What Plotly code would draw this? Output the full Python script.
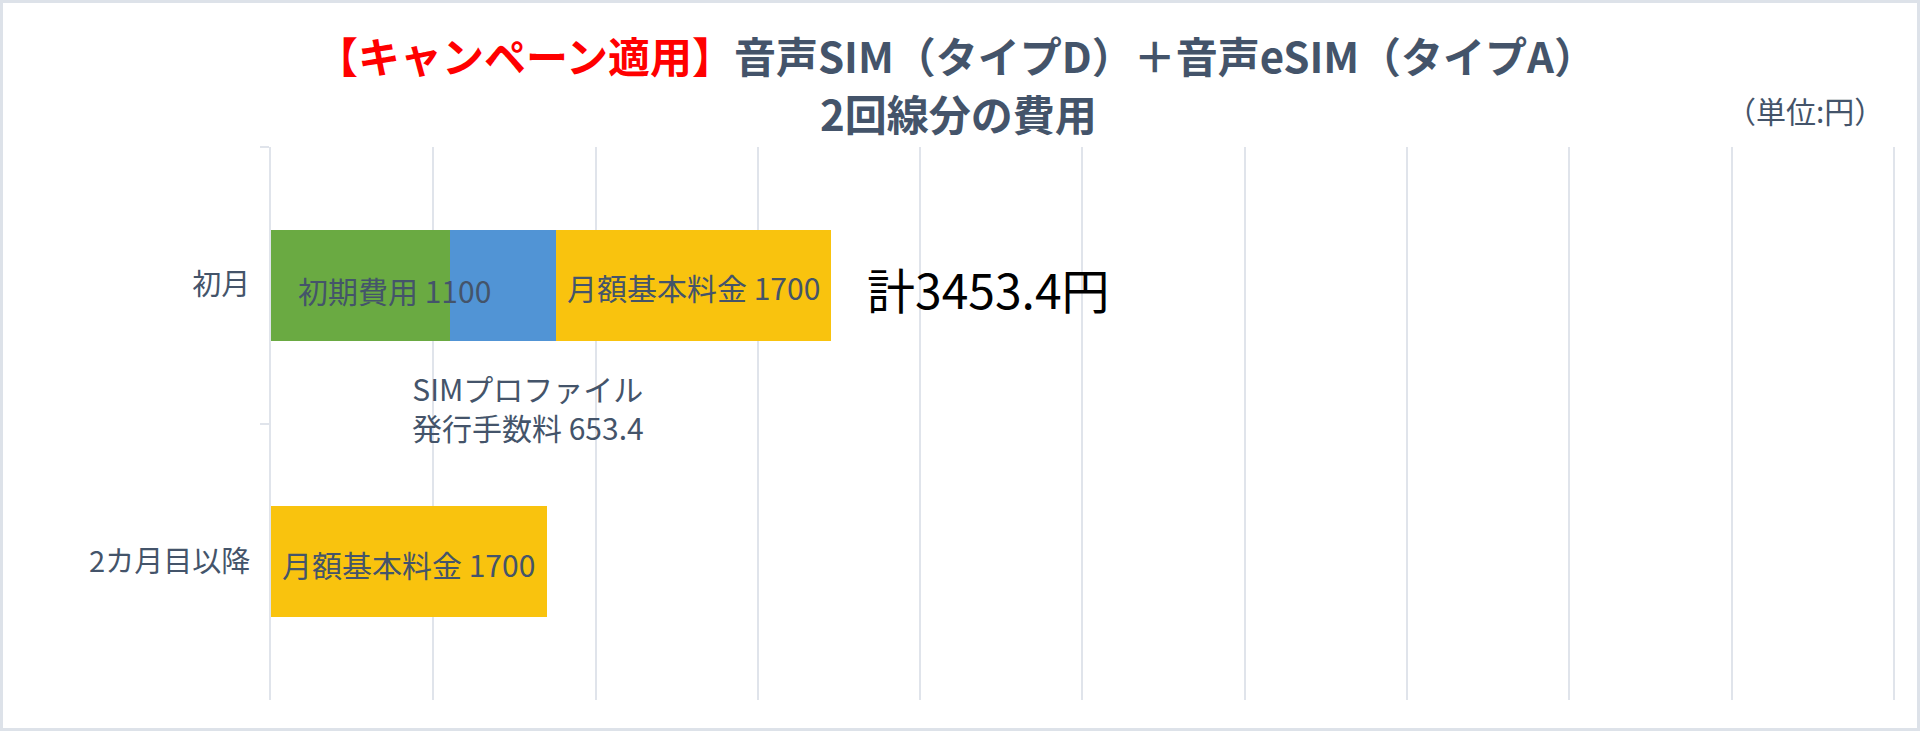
import plotly.graph_objects as go

# ---- data ----
categories = ["初月", "2カ月目以降"]
initial_fee = [1100, None]          # 初期費用
sim_profile_fee = [653.4, None]     # SIMプロファイル発行手数料
monthly_fee = [1700, 1700]          # 月額基本料金
x_max = 10000
x_step = 1000

title_red = "【キャンペーン適用】"
title_rest = "音声SIM（タイプD）＋音声eSIM（タイプA）"
title_line2 = "2回線分の費用"
unit_label = "（単位:円）"

# ---- styles ----
W, H = 1920, 731
X_PAD = 1.01                        # small room so the last grid line is drawn
M = dict(l=271, r=10, t=147, b=31)
PW = W - M["l"] - M["r"]
PH = H - M["t"] - M["b"]
FONT = "Noto Sans CJK JP"
TXT = "#44546a"
GRID = "#e0e4eb"
C_GREEN = "#6aaa42"
C_BLUE = "#5194d5"
C_YELLOW = "#f9c30e"


def px_x(px):
    return (px - M["l"]) / PW


def px_y(py):
    return 1 - (py - M["t"]) / PH


def v(a):
    return 0 if a is None else a


fig = go.Figure()
for vals, col, name in [(initial_fee, C_GREEN, "初期費用"),
                        (sim_profile_fee, C_BLUE, "SIMプロファイル発行手数料"),
                        (monthly_fee, C_YELLOW, "月額基本料金")]:
    fig.add_trace(go.Bar(y=categories, x=vals, orientation="h", name=name,
                         marker=dict(color=col, line=dict(width=0)),
                         width=0.4, hoverinfo="skip", showlegend=False))

annos = []
lab_font = dict(family=FONT, size=30, color=TXT)
# 初月 labels
annos.append(dict(x=v(initial_fee[0]) / 2, y=categories[0], xref="x", yref="y",
                  text=f"初期費用 {v(initial_fee[0]):g}", showarrow=False,
                  font=lab_font, xshift=34, yshift=-5))
annos.append(dict(x=v(initial_fee[0]) + v(sim_profile_fee[0]) / 2, y=categories[0],
                  xref="x", yref="y",
                  text=f"SIMプロファイル<br>発行手数料 {v(sim_profile_fee[0]):g}",
                  showarrow=False, font=lab_font, xshift=25, yshift=-122))
for i, cat in enumerate(categories):
    base = v(initial_fee[i]) + v(sim_profile_fee[i])
    annos.append(dict(x=base + monthly_fee[i] / 2, y=cat, xref="x", yref="y",
                      text=f"月額基本料金 {monthly_fee[i]:g}", showarrow=False,
                      font=lab_font, yshift=-2))
total0 = v(initial_fee[0]) + v(sim_profile_fee[0]) + v(monthly_fee[0])
annos.append(dict(x=total0, y=categories[0], xref="x", yref="y", xanchor="left",
                  text=f"計{round(total0, 1):g}円", showarrow=False,
                  font=dict(family=FONT, size=48, color="#000000"), xshift=34, yshift=-3))
# titles
annos.append(dict(x=px_x(956), y=px_y(55), xref="paper", yref="paper",
                  xanchor="center", yanchor="middle",
                  text=f"<span style='color:#ff0000'>{title_red}</span>{title_rest}",
                  showarrow=False, font=dict(family=FONT, size=42, color=TXT, weight="bold")))
annos.append(dict(x=px_x(958), y=px_y(113), xref="paper", yref="paper",
                  xanchor="center", yanchor="middle",
                  text=title_line2, showarrow=False,
                  font=dict(family=FONT, size=42, color=TXT, weight="bold")))
annos.append(dict(x=px_x(1805), y=px_y(110), xref="paper", yref="paper",
                  xanchor="center", yanchor="middle",
                  text=unit_label, showarrow=False,
                  font=dict(family=FONT, size=30, color=TXT)))

fig.update_layout(
    width=W, height=H, margin=M,
    barmode="stack", bargap=0.6,
    paper_bgcolor="white", plot_bgcolor="white",
    font=dict(family=FONT, color=TXT),
    annotations=annos,
    xaxis=dict(range=[0, x_max * X_PAD], dtick=x_step, tick0=0, showticklabels=False,
               showgrid=True, gridcolor=GRID, gridwidth=2, zeroline=False,
               showline=False, fixedrange=True),
    yaxis=dict(type="category", range=[len(categories) - 0.5, -0.5], showline=True,
               linecolor=GRID, linewidth=2, ticks="outside", tickson="boundaries",
               ticklen=9, tickcolor=GRID, tickwidth=2, ticklabelstandoff=13,
               tickfont=dict(family=FONT, size=29, color=TXT), showgrid=False),
    shapes=[dict(type="rect", xref="paper", yref="paper",
                 x0=-(M["l"] - 1.5) / PW, x1=1 + (M["r"] - 1.5) / PW,
                 y0=-(M["b"] - 1.5) / PH, y1=1 + (M["t"] - 1.5) / PH,
                 line=dict(color="#dde2e9", width=3), layer="below")],
)

fig.write_html("out.html", config={"displayModeBar": False},
               post_script="document.body.style.margin='0';document.body.style.overflow='hidden';")
